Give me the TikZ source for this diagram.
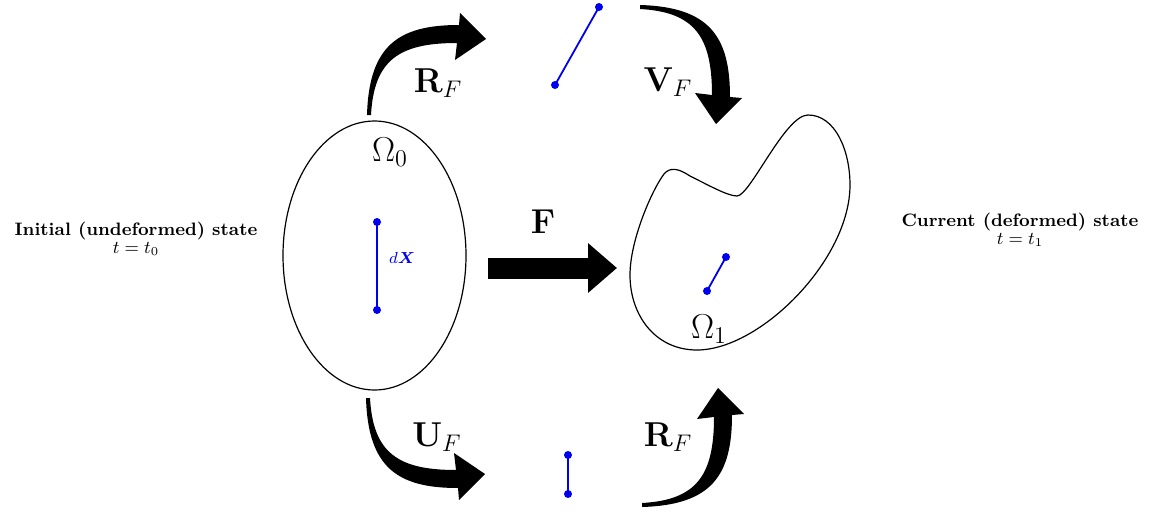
\documentclass[tikz,border=0pt]{standalone}
\usepackage{amsmath,amssymb,bm}
\usetikzlibrary{positioning,arrows.meta,shapes.geometric}
\definecolor{vecblue}{HTML}{0000F0}

\tikzset{
  bentarrow/.pic={
    \fill (-2,0) .. controls (0,70) and (30,90) .. (90,90) -- (91,102) -- (117,76)
      -- (86,55) -- (88,72) .. controls (30,72) and (5,55) .. (2,0) -- cycle;
  },
  statelbl/.style={align=center,font=\small,inner sep=0pt},
  maplbl/.style={font=\fontsize{18.5}{22}\selectfont,inner sep=0pt},
  vec/.style={vecblue,line width=0.9pt},
  fatarrow/.style={line width=10.5pt,-{Triangle[length=14.5pt,width=24pt]}}
}

\begin{document}
\begin{tikzpicture}[x=0.5pt,y=0.5pt]
\useasboundingbox (0,0) rectangle (1156,-514);

% reference body
\node[draw,line width=0.6pt,ellipse,minimum width=91.5pt,minimum height=134.5pt,inner sep=0pt] (body0) at (374.5,-255.5) {};
\node[maplbl] (om0) at (390,-152) {$\Omega_0$};
\coordinate (X0a) at (377,-222);
\coordinate (X0b) at (377,-310);
\draw[vec] (X0a) -- (X0b);
\node[font=\footnotesize,text=vecblue,inner sep=0pt] (dX) at (402,-258) {$d\bm{X}$};

% deformed body
\draw[line width=0.6pt] (630,-275) .. controls (630,-240) and (652,-190) .. (664,-174)
  .. controls (670,-167) and (678,-168) .. (690,-176)
  .. controls (710,-186) and (728,-196) .. (737,-196)
  .. controls (750,-196) and (785,-115) .. (808,-115)
  .. controls (835,-115) and (850,-150) .. (850,-185)
  .. controls (850,-260) and (760,-350) .. (697,-350)
  .. controls (655,-350) and (630,-315) .. (630,-275) -- cycle;
\node[maplbl] (om1) at (709,-329) {$\Omega_1$};
\coordinate (x1a) at (707,-291);
\coordinate (x1b) at (726,-257);
\draw[vec] (x1a) -- (x1b);

% rotated / stretched elements
\coordinate (rta) at (555,-85);
\coordinate (rtb) at (599,-7);
\draw[vec] (rta) -- (rtb);
\coordinate (ua) at (568,-455);
\coordinate (ub) at (568,-494);
\draw[vec] (ua) -- (ub);
\foreach \p in {X0a,X0b,x1a,x1b,rta,rtb,ua,ub}
  \fill[vecblue] (\p) circle (2pt);

% maps
\coordinate (fA) at (488,-268);
\coordinate (fB) at (617,-268);
\draw[fatarrow] (fA) -- (fB);
\node[maplbl] (Flbl) at (543,-222) {$\mathbf{F}$};

\pic at (369,-115) {bentarrow};
\pic[rotate=-90] at (640,-7) {bentarrow};
\pic[yscale=-1] at (368,-398) {bentarrow};
\pic[cm={0,1,1,0,(0,0)}] at (642,-505) {bentarrow};
\node[maplbl] (RFtop) at (438,-83) {$\mathbf{R}_F$};
\node[maplbl] (VF) at (668,-82) {$\mathbf{V}_F$};
\node[maplbl] (UF) at (437,-437) {$\mathbf{U}_F$};
\node[maplbl] (RFbot) at (668,-437) {$\mathbf{R}_F$};

% states
\node[statelbl] (init) at (136,-239) {\textbf{Initial (undeformed) state}\\[-2pt]$t=t_0$};
\node[statelbl] (curr) at (1020,-230) {\textbf{Current (deformed) state}\\[-2pt]$t=t_1$};
\end{tikzpicture}
\end{document}
